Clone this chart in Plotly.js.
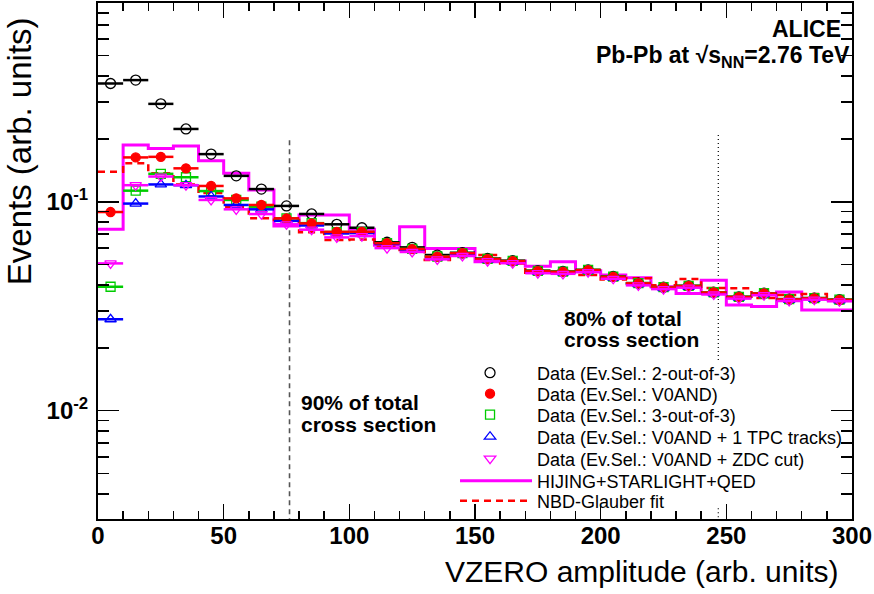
<!DOCTYPE html>
<html><head><meta charset="utf-8">
<script src="https://cdn.plot.ly/plotly-3.0.1.min.js"></script>
<style>html,body{margin:0;padding:0;background:#fff}#chart{width:874px;height:594px}</style>
</head><body><div id="chart"></div>
<script>
// ---- data (VZERO amplitude bins, width 10) ----
const binCenters = [5,15,25,35,45,55,65,75,85,95,105,115,125,135,145,155,165,175,185,195,205,215,225,235,245,255,265,275,285,295];
const binHalfWidth = 5;

const sel2outOf3 = [0.368,0.382,0.294,0.223,0.169,0.133,0.115,0.0955,0.0874,0.078,0.0751,0.064,0.0605,0.0556,0.057,0.0535,0.0522,0.0468,0.0464,0.0472,0.0439,0.0408,0.039,0.0396,0.0369,0.0351,0.0365,0.0342,0.0346,0.034];
const selV0AND = [0.0893,0.163,0.164,0.1445,0.119,0.1038,0.0965,0.0833,0.0788,0.0718,0.0718,0.0633,0.0594,0.0546,0.0567,0.0532,0.052,0.0466,0.0462,0.0471,0.0437,0.0407,0.0389,0.0395,0.0368,0.035,0.0364,0.0341,0.0345,0.0339];
const sel3outOf3 = [0.0392,0.113,0.136,0.131,0.1125,0.102,0.0947,0.0833,0.079,0.0716,0.0716,0.0634,0.0595,0.0547,0.0568,0.0533,0.0521,0.0467,0.0463,0.0472,0.0438,0.0408,0.039,0.0396,0.0369,0.0351,0.0365,0.0342,0.0346,0.034];
const selV0ANDTPC = [0.0274,0.098,0.121,0.120,0.106,0.0965,0.092,0.081,0.077,0.0705,0.0708,0.0628,0.059,0.0542,0.0563,0.0528,0.0516,0.0463,0.0459,0.0468,0.0434,0.0404,0.0386,0.0392,0.0365,0.0348,0.0362,0.0339,0.0343,0.0337];
const selV0ANDZDC = [0.0507,0.120,0.132,0.120,0.102,0.092,0.0873,0.078,0.0735,0.0675,0.0685,0.060,0.0575,0.053,0.055,0.052,0.0508,0.0455,0.0452,0.046,0.0428,0.0398,0.0382,0.0388,0.036,0.0344,0.0357,0.0335,0.034,0.0334];
const hijingQED = [0.0738,0.187,0.180,0.185,0.157,0.137,0.1137,0.0765,0.0863,0.0863,0.0738,0.062,0.076,0.0598,0.0598,0.0517,0.052,0.0492,0.0517,0.0468,0.0446,0.0433,0.0392,0.0364,0.0421,0.0321,0.0315,0.037,0.0303,0.0303];
const nbdGlauber = [0.139,0.153,0.137,0.121,0.110,0.094,0.0833,0.0818,0.0714,0.0656,0.066,0.0609,0.0587,0.0526,0.0556,0.0556,0.0507,0.0457,0.0457,0.0446,0.0425,0.0431,0.0399,0.0427,0.0387,0.0386,0.0346,0.0358,0.0362,0.034];

// centrality cut lines: x position, y segments
const cut90X = 76.2;
const cut90Y = [0.197, 0.003];
const cut80X = 246.8;
const cut80Y = [0.2085, 0.0171, null, 0.00342, 0.003];

// axis ticks
const yMajorVals = [0.01, 0.1];
const yMajorText = ['10<sup>-2</sup>', '10<sup>-1</sup>'];
const yMinorVals = [0.004,0.005,0.006,0.007,0.008,0.009,0.02,0.03,0.04,0.05,0.06,0.07,0.08,0.09,0.2,0.3,0.4,0.5,0.6,0.7,0.8];
const xTickVals = [0,50,100,150,200,250,300];

const legendNames = [
  'Data (Ev.Sel.: 2-out-of-3)',
  'Data (Ev.Sel.: V0AND)',
  'Data (Ev.Sel.: 3-out-of-3)',
  'Data (Ev.Sel.: V0AND + 1 TPC tracks)',
  'Data (Ev.Sel.: V0AND + ZDC cut)',
  'HIJING+STARLIGHT+QED',
  'NBD-Glauber fit'
];

// ---- build ----
const F = 'Liberation Sans, Arial, Helvetica, sans-serif';
const edges = binCenters.map(c => c - binHalfWidth).concat([binCenters[binCenters.length-1] + binHalfWidth]);
const stepY = v => v.concat([v[v.length-1]]);

function dataTrace(y, name, legend, symbol, color, size) {
  return {
    type: 'scatter', mode: 'markers', x: binCenters, y: y, name: name, legend: legend,
    marker: {symbol: symbol, size: size, color: color, line: {color: color, width: 1.3}},
    error_x: {type: 'constant', value: binHalfWidth, width: 0, thickness: 2.5, color: color}
  };
}

const traces = [
  {type:'scatter', mode:'lines', x:[cut90X,cut90X], y:cut90Y, showlegend:false, hoverinfo:'skip',
   line:{color:'#555', width:1.6, dash:'5px,4px'}},
  {type:'scatter', mode:'lines', x:[cut80X,cut80X,null,cut80X,cut80X], y:cut80Y, showlegend:false, hoverinfo:'skip',
   line:{color:'#000', width:1.2, dash:'1px,3px'}},
  {type:'scatter', mode:'lines', x:edges, y:stepY(hijingQED), name:legendNames[5], legend:'legend6',
   line:{shape:'hv', color:'#ff00ff', width:3}},
  {type:'scatter', mode:'lines', x:edges, y:stepY(nbdGlauber), name:legendNames[6], legend:'legend7',
   line:{shape:'hv', color:'#ff0000', width:2.5, dash:'7px,5px'}},
  dataTrace(sel2outOf3, legendNames[0], 'legend', 'circle-open', '#000000', 10),
  dataTrace(sel3outOf3, legendNames[2], 'legend3', 'square-open', '#00cc00', 9),
  dataTrace(selV0ANDTPC, legendNames[3], 'legend4', 'triangle-up-open', '#0000ff', 10),
  dataTrace(selV0AND, legendNames[1], 'legend2', 'circle', '#ff0000', 9),
  dataTrace(selV0ANDZDC, legendNames[4], 'legend5', 'triangle-down-open', '#ff00ff', 10)
];

const legRows = [0.2829, 0.2422, 0.2016, 0.1589, 0.1163, 0.0736, 0.0349];
function leg(yc, x, w) {
  return {x: x, xanchor: 'left', y: yc, yanchor: 'middle', bgcolor: 'rgba(0,0,0,0)',
          borderwidth: 0, font: {family: F, size: 18, color: '#000'}, itemwidth: w, tracegroupgap: 0};
}
const legMarkX = 0.4576, legLineX = 0.4735;

const tickFont = {family: F, size: 24, color: '#000', weight: 'bold'};
const layout = {
  width: 874, height: 594,
  margin: {l: 98, r: 22, t: 3, b: 75, pad: 0},
  paper_bgcolor: '#fff', plot_bgcolor: '#fff',
  showlegend: true,
  xaxis: {
    range: [0, 300], showgrid: false, zeroline: false,
    showline: true, linecolor: '#000', linewidth: 2, mirror: 'ticks',
    ticks: 'inside', tickmode: 'array', tickvals: xTickVals, ticklen: 15, tickwidth: 1.5, tickcolor: '#000',
    minor: {dtick: 10, tick0: 0, ticks: 'inside', ticklen: 8, tickwidth: 1.5, tickcolor: '#000', showgrid: false},
    tickfont: tickFont, ticklabelstandoff: -6
  },
  yaxis: {
    type: 'log', range: [-2.518, -0.049], showgrid: false, zeroline: false,
    showline: true, linecolor: '#000', linewidth: 2, mirror: 'ticks',
    ticks: 'inside', tickmode: 'array', tickvals: yMajorVals, ticktext: yMajorText,
    ticklen: 21, tickwidth: 1.5, tickcolor: '#000',
    minor: {tickmode: 'array', tickvals: yMinorVals, ticks: 'inside', ticklen: 11, tickwidth: 1.5, tickcolor: '#000', showgrid: false},
    tickfont: tickFont, ticklabelstandoff: 3
  },
  legend: leg(legRows[0], legMarkX, 84), legend2: leg(legRows[1], legMarkX, 84), legend3: leg(legRows[2], legMarkX, 84),
  legend4: leg(legRows[3], legMarkX, 84), legend5: leg(legRows[4], legMarkX, 84),
  legend6: leg(legRows[5], legLineX, 72), legend7: leg(legRows[6], legLineX, 72),
  annotations: [
    {xref:'paper', yref:'paper', x:0.988, y:0.9496, xanchor:'right', yanchor:'middle', showarrow:false,
     text:'ALICE', font:{family:F, size:23, color:'#000', weight:'bold'}},
    {xref:'paper', yref:'paper', x:1.0, y:0.8963, xanchor:'right', yanchor:'middle', showarrow:false,
     text:'Pb-Pb at \u221As<sub>NN</sub>=2.76 TeV', font:{family:F, size:23, color:'#000', weight:'bold'}},
    {xref:'paper', yref:'paper', x:0.6154, y:0.3876, xanchor:'left', yanchor:'middle', showarrow:false,
     text:'80% of total', font:{family:F, size:21, color:'#000', weight:'bold'}},
    {xref:'paper', yref:'paper', x:0.6154, y:0.3488, xanchor:'left', yanchor:'middle', showarrow:false,
     text:'cross section', font:{family:F, size:21, color:'#000', weight:'bold'}},
    {xref:'paper', yref:'paper', x:0.2666, y:0.2258, xanchor:'left', yanchor:'middle', showarrow:false,
     text:'90% of total', font:{family:F, size:21, color:'#000', weight:'bold'}},
    {xref:'paper', yref:'paper', x:0.2666, y:0.1841, xanchor:'left', yanchor:'middle', showarrow:false,
     text:'cross section', font:{family:F, size:21, color:'#000', weight:'bold'}},
    {xref:'paper', yref:'paper', x:-0.103, y:0.977, xanchor:'center', yanchor:'top', showarrow:false,
     textangle:-90, text:'Events (arb. units)', font:{family:F, size:33, color:'#000'}},
    {xref:'paper', yref:'paper', x:0.9847, y:-0.1008, xanchor:'right', yanchor:'middle', showarrow:false,
     text:'VZERO amplitude (arb. units)', font:{family:F, size:30, color:'#000'}}
  ]
};

Plotly.newPlot('chart', traces, layout, {staticPlot: true, displayModeBar: false});
</script>
</body></html>
